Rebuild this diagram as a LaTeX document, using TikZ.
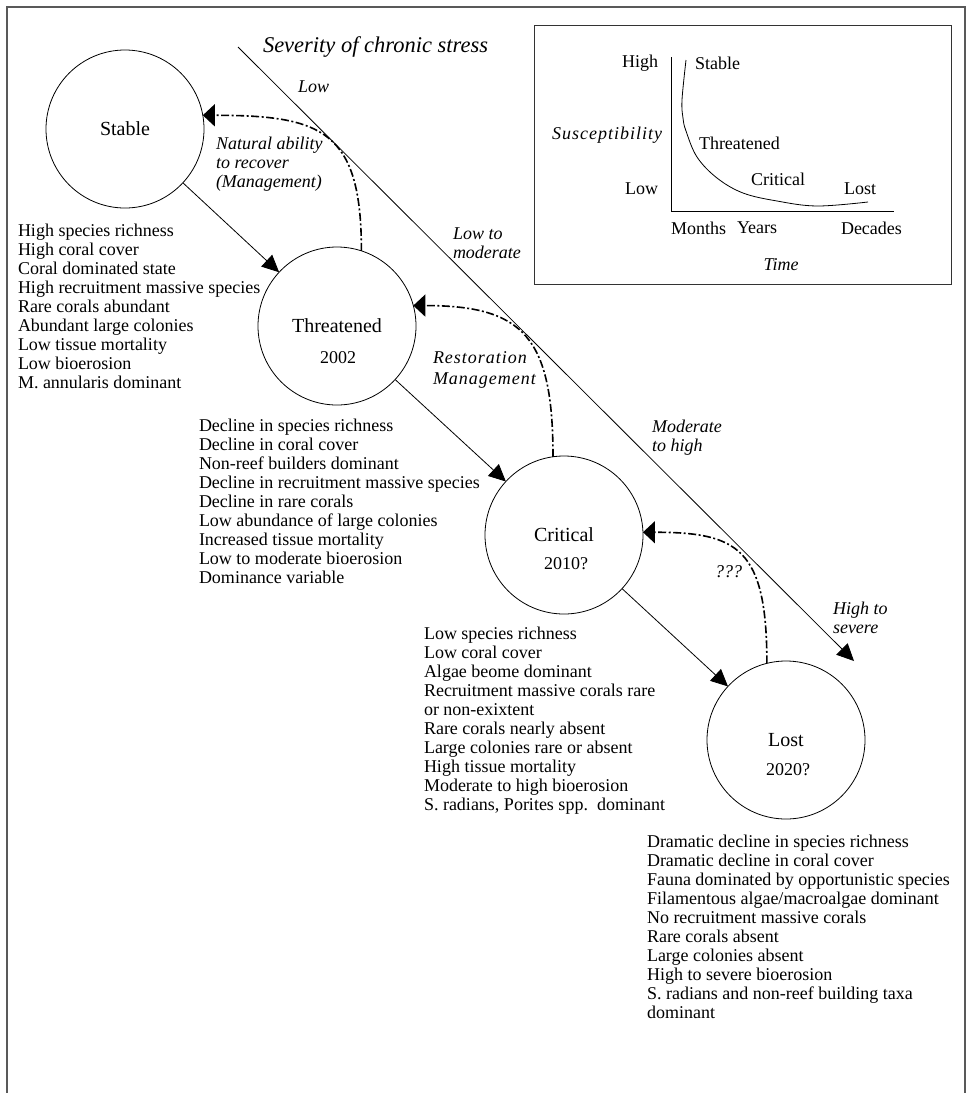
\documentclass[tikz,border=0pt]{standalone}
\usepackage{fontspec}
\setmainfont{Liberation Serif}
\usetikzlibrary{arrows.meta}
\frenchspacing

\begin{document}
\begin{tikzpicture}[x=1pt,y=-1pt,
  every node/.style={inner sep=0pt, outer sep=0pt},
  txt/.style={font=\fontsize{18}{19}\selectfont, align=left, anchor=west},
  itxt/.style={font=\fontsize{18}{19}\selectfont\itshape, align=left, anchor=west},
  wide/.style={font=\fontsize{18}{21}\selectfont\itshape\addfontfeature{LetterSpace=5.5}},
  title/.style={font=\fontsize{22.5}{24}\selectfont\itshape, anchor=west},
  state/.style={draw, circle, minimum size=158pt, line width=0.8pt,
                font=\fontsize{20}{21}\selectfont},
  year/.style={font=\fontsize{18}{19}\selectfont},
  flow/.style={line width=0.8pt, -{Triangle[length=17pt,width=16pt]}},
  back/.style={line width=1.6pt, dash pattern=on 8pt off 2.5pt on 2pt off 2.5pt,
               -{Triangle[length=12pt,width=22pt]}},
  frame/.style={draw=black!65, line width=1.5pt},
]
\useasboundingbox (0,0) rectangle (969,1093);

% outer frame (open at the bottom)
\coordinate (f1) at (7,1093);
\coordinate (f2) at (7,7);
\coordinate (f3) at (965,7);
\coordinate (f4) at (965,1093);
\draw[frame] (f1) -- (f2) -- (f3) -- (f4);

% reef states
\node[state] (stb) at (125,129) {Stable};
\node[state] (thr) at (337,326) {Threatened};
\node[state] (crt) at (564,535) {Critical};
\node[state] (lst) at (786,740) {Lost};
\node[year] (thr-y) at (338,358) {2002};
\node[year] (crt-y) at (566,564) {2010?};
\node[year] (lst-y) at (788,770) {2020?};

% decline between states
\draw[flow] (stb) -- (thr);
\draw[flow] (thr) -- (crt);
\draw[flow] (crt) -- (lst);

% recovery paths
\draw[back] (thr.72) .. controls +(0,-120) and +(120,0) .. (stb.10);
\draw[back] (crt.98) .. controls +(0,-120) and +(110,0) .. (thr.15);
\draw[back] (lst.104) .. controls +(0,-115) and +(95,0) .. (crt.2);

% stress axis
\coordinate (s0) at (238,47);
\coordinate (s1) at (854,661);
\draw[flow] (s0) -- (s1);
\node[title] (sev) at (263,47) {Severity of chronic stress};
\node[itxt] (lvl1) at (298,87) {Low};
\node[itxt] (lvl2) at (453,243) {Low to\\moderate};
\node[itxt] (lvl3) at (652,438) {Moderate\\to high};
\node[itxt] (lvl4) at (833,618) {High to\\severe};

% recovery labels
\node[itxt] (rec1) at (216,164.5) {Natural ability\\to recover\\(Management)};
\node[itxt, wide] (rec2) at (433,369.5) {Restoration\\Management};
\node[itxt] (rec3) at (715,572) {???};

% characteristics of each state
\node[txt] (stb-l) at (18,306) {High species richness\\High coral cover\\Coral dominated state\\High recruitment massive species\\Rare corals abundant\\Abundant large colonies\\Low tissue mortality\\Low bioerosion\\M. annularis dominant};
\node[txt] (thr-l) at (199,501.5) {Decline in species richness\\Decline in coral cover\\Non-reef builders dominant\\Decline in recruitment massive species\\Decline in rare corals\\Low abundance of large colonies\\Increased tissue mortality\\Low to moderate bioerosion\\Dominance variable};
\node[txt] (crt-l) at (424,720.5) {Low species richness\\Low coral cover\\Algae beome dominant\\Recruitment massive corals rare\\or non-exixtent\\Rare corals nearly absent\\Large colonies rare or absent\\High tissue mortality\\Moderate to high bioerosion\\S. radians, Porites spp.\ \ dominant};
\node[txt] (lst-l) at (647,927) {Dramatic decline in species richness\\Dramatic decline in coral cover\\Fauna dominated by opportunistic species\\Filamentous algae/macroalgae dominant\\No recruitment massive corals\\Rare corals absent\\Large colonies absent\\High to severe bioerosion\\S. radians and non-reef building taxa\\dominant};

% inset: susceptibility over time
\node[draw=black!80, line width=0.8pt, minimum width=417pt, minimum height=259pt,
      anchor=north west] (inset) at (534,25) {};
\coordinate (ay) at (671,57);
\coordinate (ao) at (671,211);
\coordinate (ax) at (894,211);
\draw[line width=0.8pt] (ay) -- (ao) -- (ax);
\draw[line width=0.8pt] plot[smooth, tension=0.6] coordinates
  {(686,60) (682,100) (683,118) (686,131) (697,157) (717,178) (743,193) (777,201) (817,206) (868,202)};
\node[txt, anchor=east] (i-hi) at (658,63) {High};
\node[itxt, wide, anchor=east] (i-sus) at (662,135) {Susceptibility};
\node[txt, anchor=east] (i-lo) at (658,189) {Low};
\node[txt] (i-mo) at (671,228) {Months};
\node[txt] (i-yr) at (737,228) {Years};
\node[txt] (i-de) at (841,228) {Decades};
\node[itxt, anchor=center] (i-t) at (781,265) {Time};
\node[txt] (i-s) at (695,63) {Stable};
\node[txt] (i-th) at (699,143) {Threatened};
\node[txt] (i-cr) at (751,179) {Critical};
\node[txt] (i-ls) at (844,189) {Lost};
\end{tikzpicture}
\end{document}
